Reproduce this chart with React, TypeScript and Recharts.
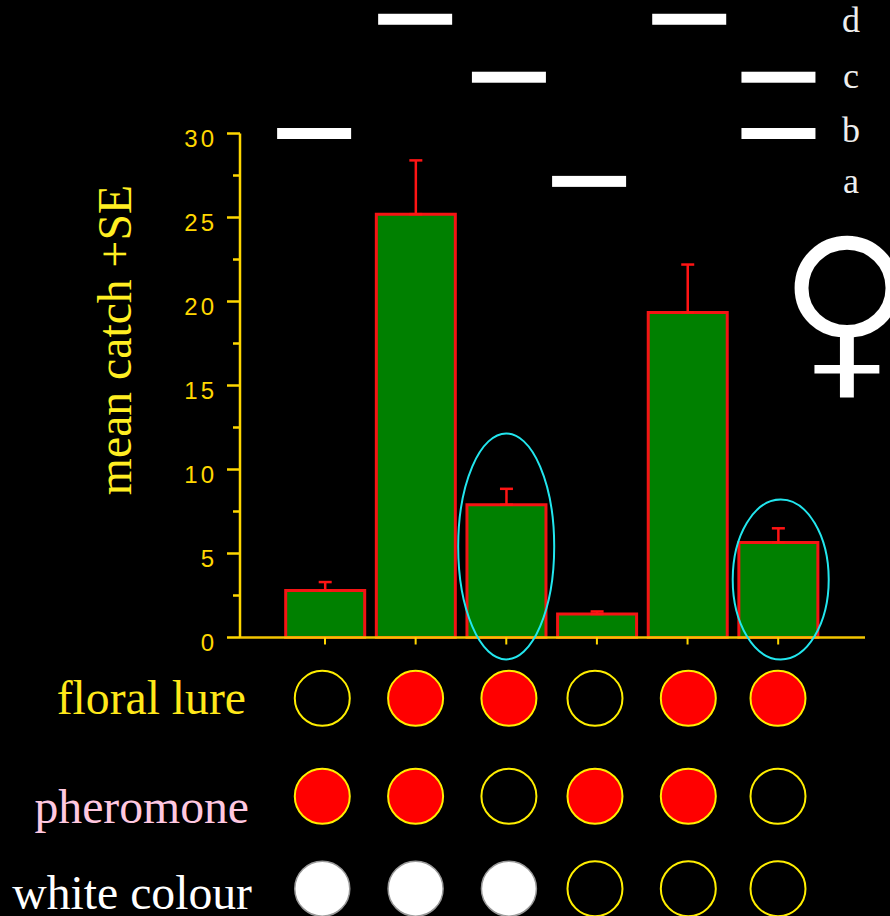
import React from "react";
import { ComposedChart, ScatterChart, Scatter, Bar, ErrorBar, XAxis, YAxis } from "recharts";

const treatments = ["A", "B", "C", "D", "E", "F"];
const meanCatch = [2.8, 25.2, 7.9, 1.4, 19.35, 5.65];
const seUpper = [0.5, 3.2, 0.95, 0.15, 2.85, 0.85];
const yTicks = [0, 2.5, 5, 7.5, 10, 12.5, 15, 17.5, 20, 22.5, 25, 27.5, 30];

const sigX = [0.88, 1.995, 3.03, 3.915, 5.02, 6.005, 6.005];
const sigY = [30, 36.8, 33.35, 27.15, 36.8, 33.35, 30];

const circleX = [0.97, 2.0, 3.03, 3.98, 5.01, 6.0];
const floralY = -3.62;
const pheromoneY = -9.45;
const whiteY = -14.95;
const floralOn = [false, true, true, false, true, true];
const pheromoneOn = [true, true, false, true, true, false];
const whiteOn = [true, true, true, false, false, false];

const ellipseX = [3.0, 6.03];
const ellipseY = [5.42, 3.45];
const ellipseRy = [113, 80];

const GOLD = "#ffd700";
const W = 890;
const H = 916;
const PLOT_TOP = 133.5;
const PLOT_BOTTOM = 637.5;
const X_AXIS_H = 30;
const PX_PER_UNIT = (PLOT_BOTTOM - PLOT_TOP) / 30;
const BAND = 90.6;
const C1 = 325;

const barData = treatments.map((t, i) => ({ t, mean: meanCatch[i], se: [0, seUpper[i]] }));
const sigData = sigX.map((x, i) => ({ x, y: sigY[i] }));
const rowData = (y: number, on: boolean[]) => circleX.map((x, i) => ({ x, y, on: on[i] }));
const ellipseData = ellipseX.map((x, i) => ({ x, y: ellipseY[i], ry: ellipseRy[i] }));

const YTick = (props: any) => {
  const { y, payload } = props;
  const major = payload.value % 5 === 0;
  const ax = 240;
  return (
    <g>
      <line x1={ax - (major ? 13 : 7)} x2={ax} y1={y} y2={y} stroke={GOLD} strokeWidth={2.5} />
      {major && (
        <text x={ax - 23} y={y + 13} textAnchor="end" fill={GOLD} fontFamily="'Liberation Sans'" fontSize={24} letterSpacing={3}>
          {payload.value}
        </text>
      )}
    </g>
  );
};

const EmptyTick = () => <g />;

const SigShape = (p: any) => <rect x={p.cx - 37} y={p.cy - 5.5} width={74} height={11} fill="#fff" />;
const FloralCircle = (p: any) => (
  <circle cx={p.cx} cy={p.cy} r={27.5} fill={p.payload.on ? "#ff0000" : "#000"} stroke="#ffee00" strokeWidth={2} />
);
const WhiteCircle = (p: any) =>
  p.payload.on ? (
    <circle cx={p.cx} cy={p.cy} r={27.5} fill="#fff" stroke="#999" strokeWidth={1.5} />
  ) : (
    <circle cx={p.cx} cy={p.cy} r={27.5} fill="#000" stroke="#ffee00" strokeWidth={2} />
  );
const EllipseShape = (p: any) => (
  <ellipse cx={p.cx} cy={p.cy} rx={48} ry={p.payload.ry} fill="none" stroke="#22e6ee" strokeWidth={2} />
);

const serif = "'Liberation Serif'";

export default function App() {
  return (
    <div style={{ position: "absolute", left: 0, top: 0, width: W, height: H, background: "#000", overflow: "hidden" }}>
      <div style={{ position: "absolute", left: 0, top: 0 }}>
        <ComposedChart
          width={W}
          height={H}
          data={barData}
          margin={{ top: PLOT_TOP, bottom: H - PLOT_BOTTOM - X_AXIS_H, left: 190, right: W - 865 }}
          barCategoryGap={0}
        >
          <XAxis
            dataKey="t"
            padding={{ left: 39.7, right: 41.5 }}
            height={X_AXIS_H}
            interval={0}
            tick={<EmptyTick />}
            tickSize={7}
            axisLine={{ stroke: "#f2c500", strokeWidth: 2.5 }}
            tickLine={{ stroke: GOLD, strokeWidth: 2 }}
          />
          <YAxis
            type="number"
            domain={[0, 30]}
            ticks={yTicks}
            interval={0}
            width={50}
            tick={<YTick />}
            tickLine={false}
            axisLine={{ stroke: GOLD, strokeWidth: 2.5 }}
          />
          <Bar dataKey="mean" barSize={79} fill="#008000" stroke="#f51414" strokeWidth={3} isAnimationActive={false}>
            <ErrorBar dataKey="se" width={6.5} stroke="#ff1414" strokeWidth={2.5} direction="y" isAnimationActive={false} />
          </Bar>
        </ComposedChart>
      </div>
      <div style={{ position: "absolute", left: 0, top: 0 }}>
        <ScatterChart width={W} height={H} margin={{ top: 0, bottom: 0, left: 0, right: 0 }}>
          <XAxis type="number" dataKey="x" hide domain={[1 - C1 / BAND, 1 + (W - C1) / BAND]} allowDataOverflow />
          <YAxis
            type="number"
            dataKey="y"
            hide
            domain={[-(H - PLOT_BOTTOM) / PX_PER_UNIT, PLOT_BOTTOM / PX_PER_UNIT]}
            allowDataOverflow
          />
          <Scatter data={ellipseData} shape={<EllipseShape />} isAnimationActive={false} />
          <Scatter data={sigData} shape={<SigShape />} isAnimationActive={false} />
          <Scatter data={rowData(floralY, floralOn)} shape={<FloralCircle />} isAnimationActive={false} />
          <Scatter data={rowData(pheromoneY, pheromoneOn)} shape={<FloralCircle />} isAnimationActive={false} />
          <Scatter data={rowData(whiteY, whiteOn)} shape={<WhiteCircle />} isAnimationActive={false} />
          <text x={131} y={340} transform="rotate(-90 131 340)" textAnchor="middle" fill="#ffee22" fontFamily={serif} fontSize={47.7}>
            mean catch +SE
          </text>
          <text x={246} y={714} textAnchor="end" fill="#ffe81a" fontFamily={serif} fontSize={47.7}>floral lure</text>
          <text x={249} y={823} textAnchor="end" fill="#ffc8e0" fontFamily={serif} fontSize={47.7}>pheromone</text>
          <text x={252} y={909} textAnchor="end" fill="#fff" fontFamily={serif} fontSize={47.7}>white colour</text>
          <text x={851} y={32} textAnchor="middle" fill="#eee" fontFamily={serif} fontSize={36}>d</text>
          <text x={851} y={88} textAnchor="middle" fill="#eee" fontFamily={serif} fontSize={36}>c</text>
          <text x={851} y={142} textAnchor="middle" fill="#eee" fontFamily={serif} fontSize={36}>b</text>
          <text x={851} y={193} textAnchor="middle" fill="#eee" fontFamily={serif} fontSize={36}>a</text>
          <text x={847} y={375} textAnchor="middle" fill="#fff" stroke="#000" strokeWidth={3} fontFamily="'DejaVu Sans'" fontSize={192}>♀</text>
        </ScatterChart>
      </div>
    </div>
  );
}
